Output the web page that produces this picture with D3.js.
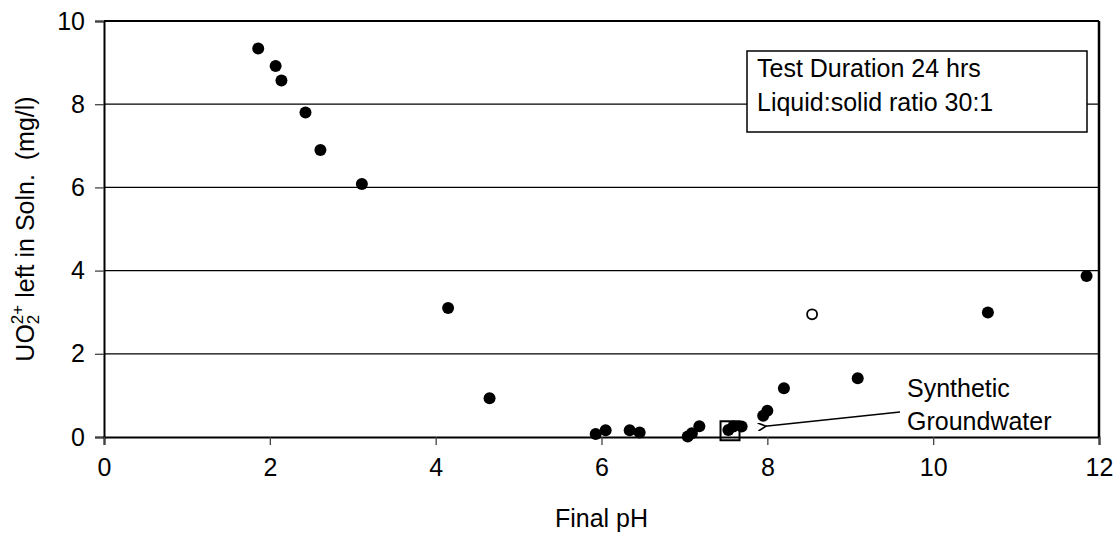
<!DOCTYPE html>
<html>
<head>
<meta charset="utf-8">
<script src="https://cdn.jsdelivr.net/npm/d3@7"></script>
<style>
  html, body { margin: 0; padding: 0; background: #fff; }
  svg { display: block; font-family: "Liberation Sans", Arial, sans-serif; }
  text { white-space: pre; }
</style>
</head>
<body>
<svg id="chart" width="1120" height="540"></svg>
<script>
// ---- data ----
const filledPH = [1.86, 2.07, 2.14, 2.43, 2.61, 3.11, 4.15, 4.65, 5.93, 6.05, 6.34, 6.46, 7.04, 7.09, 7.18, 7.53, 7.59, 7.69, 7.95, 8.00, 8.20, 9.09, 10.66, 11.85];
const filledUO2 = [9.34, 8.92, 8.57, 7.80, 6.90, 6.08, 3.10, 0.93, 0.07, 0.16, 0.16, 0.11, 0.01, 0.09, 0.26, 0.17, 0.25, 0.25, 0.51, 0.63, 1.17, 1.41, 2.99, 3.87];
const openPH = [8.54];
const openUO2 = [2.95];
const groundwaterPH = [7.55];
const groundwaterUO2 = [0.15];
const xTicks = [0, 2, 4, 6, 8, 10, 12];
const yTicks = [0, 2, 4, 6, 8, 10];
const gridValues = [2, 4, 6, 8];
const xTitle = "Final pH";
const boxLines = ["Test Duration 24 hrs", "Liquid:solid ratio 30:1"];
const annotationLines = ["Synthetic", "Groundwater"];
const annotationTarget = [7.95, 0.27];

// ---- layout ----
(function () {
const svg = d3.select("#chart");
const pLeft = 104, pRight = 1099, pTop = 21, pBottom = 437;
const x = d3.scaleLinear().domain([0, 12]).range([pLeft, pRight]);
const y = d3.scaleLinear().domain([0, 10]).range([pBottom, pTop]);
const FS = 25;

// gridlines
svg.append("g").selectAll("line").data(gridValues).join("line")
  .attr("x1", pLeft).attr("x2", pRight)
  .attr("y1", d => y(d)).attr("y2", d => y(d))
  .attr("stroke", "#000").attr("stroke-width", 1.2);

// top and right border
svg.append("line").attr("x1", pLeft).attr("x2", pRight).attr("y1", y(10)).attr("y2", y(10))
  .attr("stroke", "#000").attr("stroke-width", 2);
svg.append("line").attr("x1", pRight).attr("x2", pRight).attr("y1", y(10)).attr("y2", y(0))
  .attr("stroke", "#000").attr("stroke-width", 2.5);

// y axis
const yAxis = d3.axisLeft(y).tickValues(yTicks).tickSize(9).tickPadding(10).tickFormat(d3.format("d"));
const gy = svg.append("g").attr("transform", `translate(${pLeft},0)`).call(yAxis);
gy.select(".domain").attr("stroke", "#000").attr("stroke-width", 2);
gy.selectAll(".tick line").attr("stroke", "#444").attr("stroke-width", 1.3);
gy.selectAll(".tick text").attr("font-size", FS).attr("fill", "#000")
  .attr("font-family", "Liberation Sans, Arial, sans-serif");

// x axis
const xAxis = d3.axisBottom(x).tickValues(xTicks).tickSize(8).tickPadding(13).tickFormat(d3.format("d"));
const gx = svg.append("g").attr("transform", `translate(0,${pBottom})`).call(xAxis);
gx.select(".domain").attr("stroke", "#000").attr("stroke-width", 2);
gx.selectAll(".tick line").attr("stroke", "#444").attr("stroke-width", 1.3);
gx.selectAll(".tick text").attr("font-size", FS).attr("fill", "#000")
  .attr("font-family", "Liberation Sans, Arial, sans-serif");

// axis titles
svg.append("text").attr("x", (pLeft + pRight) / 2).attr("y", 527)
  .attr("text-anchor", "middle").attr("font-size", FS).text(xTitle);

const yt = svg.append("text").attr("transform", `translate(34,${(pTop + pBottom) / 2}) rotate(-90)`)
  .attr("text-anchor", "middle").attr("font-size", FS);
yt.append("tspan").text("UO");
yt.append("tspan").attr("font-size", 17).attr("dy", 5).text("2");
yt.append("tspan").attr("font-size", 17).attr("dx", -9.5).attr("dy", -16).text("2+");
yt.append("tspan").attr("dy", 11).text(" left in Soln.  (mg/l)");

// groundwater square marker
svg.append("g").selectAll("rect").data(groundwaterPH).join("rect")
  .attr("x", (d) => x(d) - 9.5)
  .attr("y", (d, i) => y(groundwaterUO2[i]) - 9.5)
  .attr("width", 19).attr("height", 19)
  .attr("fill", "none").attr("stroke", "#000").attr("stroke-width", 2);

// filled points
svg.append("g").selectAll("circle").data(filledPH).join("circle")
  .attr("cx", d => x(d))
  .attr("cy", (d, i) => y(filledUO2[i]))
  .attr("r", 6).attr("fill", "#000");

// open points
svg.append("g").selectAll("circle").data(openPH).join("circle")
  .attr("cx", d => x(d))
  .attr("cy", (d, i) => y(openUO2[i]))
  .attr("r", 5).attr("fill", "#fff").attr("stroke", "#000").attr("stroke-width", 1.8);

// text box
const bx = 747, by = 51, bw = 340, bh = 81;
svg.append("rect").attr("x", bx).attr("y", by).attr("width", bw).attr("height", bh)
  .attr("fill", "#fff").attr("stroke", "#000").attr("stroke-width", 1.5);
svg.append("g").selectAll("text").data(boxLines).join("text")
  .attr("x", bx + 10).attr("y", (d, i) => 77 + i * 34)
  .attr("font-size", FS).text(d => d);

// annotation arrow
const defs = svg.append("defs");
defs.append("marker").attr("id", "arrow").attr("viewBox", "0 0 10 10")
  .attr("refX", 1).attr("refY", 5).attr("markerWidth", 10).attr("markerHeight", 8)
  .attr("markerUnits", "userSpaceOnUse").attr("orient", "auto")
  .append("path").attr("d", "M10,0 L0,5 L10,10").attr("fill", "none")
  .attr("stroke", "#000").attr("stroke-width", 2);
svg.append("line")
  .attr("x1", 900).attr("y1", 412)
  .attr("x2", x(annotationTarget[0]) + 2).attr("y2", y(annotationTarget[1]) + 0.5)
  .attr("stroke", "#000").attr("stroke-width", 1.5)
  .attr("marker-end", "url(#arrow)");
svg.append("g").selectAll("text").data(annotationLines).join("text")
  .attr("x", 907).attr("y", (d, i) => 397 + i * 33)
  .attr("font-size", FS).text(d => d);
})();
</script>
</body>
</html>
